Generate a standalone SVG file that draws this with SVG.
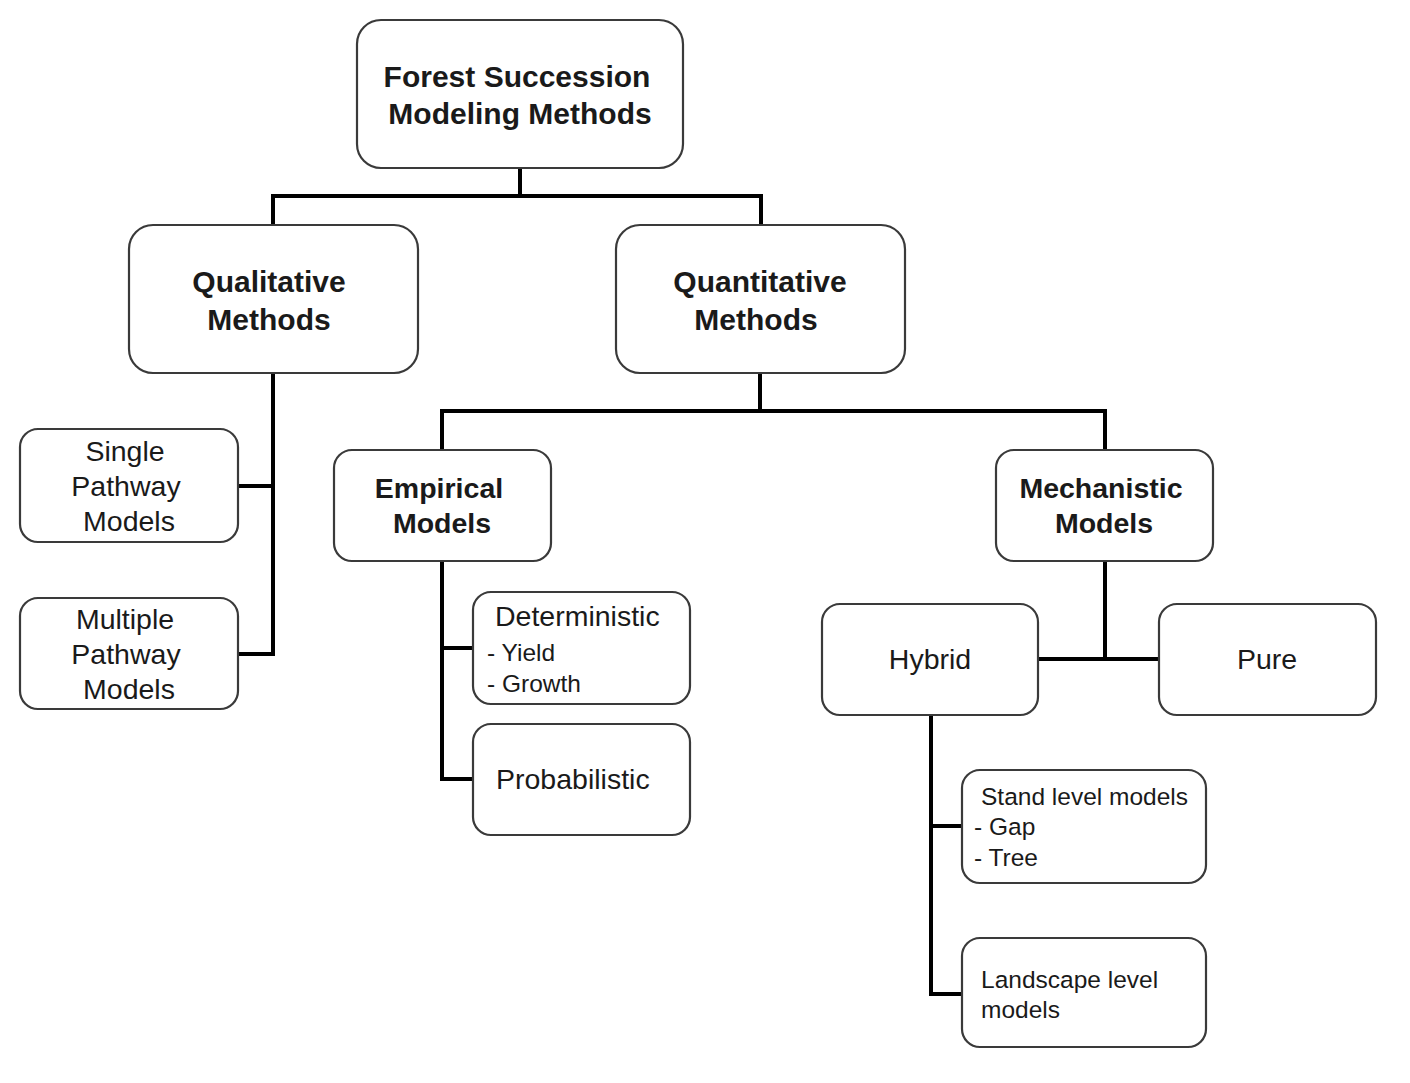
<svg xmlns="http://www.w3.org/2000/svg" width="1410" height="1083" viewBox="0 0 1410 1083">
<style>
.box{fill:#fff;stroke:#3a3a3a;stroke-width:2.2}
.con{fill:none;stroke:#000;stroke-width:4;stroke-linejoin:miter;stroke-linecap:square}
text{font-family:"Liberation Sans",Arial,sans-serif;fill:#1a1a1a}
.b30{font-size:30px;font-weight:bold}
.b28{font-size:28.5px;font-weight:bold}
.r28{font-size:28.5px}
.r24{font-size:24.5px}
.c{text-anchor:middle}
</style>
<rect width="1410" height="1083" fill="#fff"/>
<g id="connectors">
<path class="con" d="M520 169V196M273 196H761M273 196V225M761 196V225"/>
<path class="con" d="M273 373V654M238 486H273M238 654H273"/>
<path class="con" d="M760 373V411M442 411H1105M442 411V450M1105 411V450"/>
<path class="con" d="M442 560V779M442 648H473M442 779H473"/>
<path class="con" d="M1105 560V659M1038 659H1159"/>
<path class="con" d="M931 715V994M931 826H962M931 994H962"/>
</g>
<g id="root"><rect class="box" x="357" y="20" width="326" height="148" rx="24"/>
<text class="b30 c" x="517" y="87">Forest Succession</text>
<text class="b30 c" x="520" y="124">Modeling Methods</text></g>
<g id="qualitative"><rect class="box" x="129" y="225" width="289" height="148" rx="24"/>
<text class="b30 c" x="269" y="292">Qualitative</text>
<text class="b30 c" x="269" y="330">Methods</text></g>
<g id="quantitative"><rect class="box" x="616" y="225" width="289" height="148" rx="24"/>
<text class="b30 c" x="760" y="292">Quantitative</text>
<text class="b30 c" x="756" y="330">Methods</text></g>
<g id="single"><rect class="box" x="20" y="429" width="218" height="113" rx="18"/>
<text class="r28 c" x="125" y="461">Single</text>
<text class="r28 c" x="126" y="496">Pathway</text>
<text class="r28 c" x="129" y="531">Models</text></g>
<g id="multiple"><rect class="box" x="20" y="598" width="218" height="111" rx="18"/>
<text class="r28 c" x="125" y="629">Multiple</text>
<text class="r28 c" x="126" y="664">Pathway</text>
<text class="r28 c" x="129" y="699">Models</text></g>
<g id="empirical"><rect class="box" x="334" y="450" width="217" height="111" rx="18"/>
<text class="b28 c" x="439" y="498">Empirical</text>
<text class="b28 c" x="442" y="533">Models</text></g>
<g id="mechanistic"><rect class="box" x="996" y="450" width="217" height="111" rx="18"/>
<text class="b28 c" x="1101" y="498">Mechanistic</text>
<text class="b28 c" x="1104" y="533">Models</text></g>
<g id="deterministic"><rect class="box" x="473" y="592" width="217" height="112" rx="18"/>
<text class="r28" x="495" y="626">Deterministic</text>
<text class="r24" x="487" y="661">- Yield</text>
<text class="r24" x="487" y="692">- Growth</text></g>
<g id="probabilistic"><rect class="box" x="473" y="724" width="217" height="111" rx="18"/>
<text class="r28" x="496" y="789">Probabilistic</text></g>
<g id="hybrid"><rect class="box" x="822" y="604" width="216" height="111" rx="18"/>
<text class="r28 c" x="930" y="669">Hybrid</text></g>
<g id="pure"><rect class="box" x="1159" y="604" width="217" height="111" rx="18"/>
<text class="r28 c" x="1267" y="669">Pure</text></g>
<g id="stand"><rect class="box" x="962" y="770" width="244" height="113" rx="18"/>
<text class="r24" x="981" y="805">Stand level models</text>
<text class="r24" x="974" y="835">- Gap</text>
<text class="r24" x="974" y="866">- Tree</text></g>
<g id="landscape"><rect class="box" x="962" y="938" width="244" height="109" rx="18"/>
<text class="r24" x="981" y="988">Landscape level</text>
<text class="r24" x="981" y="1018">models</text></g>
</svg>
